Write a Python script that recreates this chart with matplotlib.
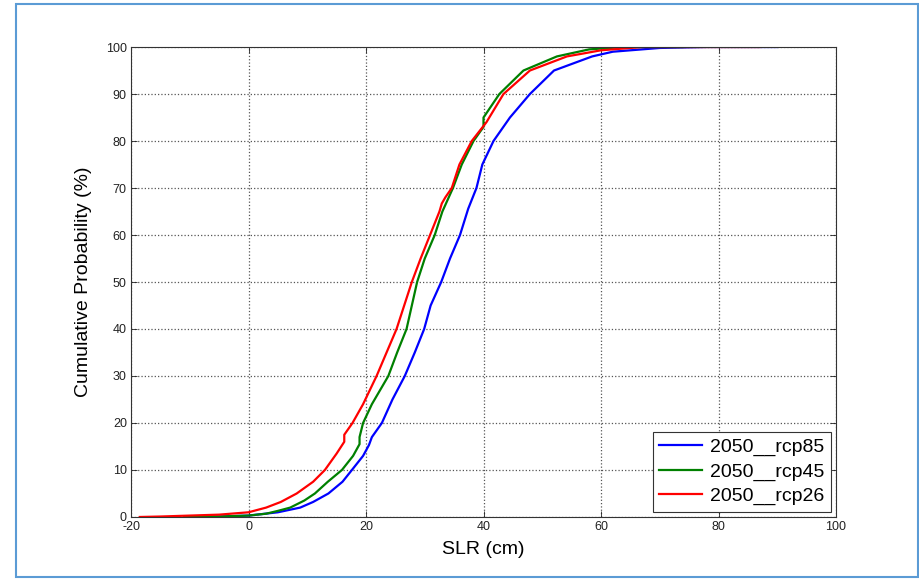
import matplotlib
matplotlib.use("Agg")
import matplotlib.pyplot as plt
from matplotlib.patches import Rectangle

plt.rcParams['font.family'] = ['Liberation Sans', 'DejaVu Sans']
plt.rcParams['axes.unicode_minus'] = False

# cumulative curves: (SLR cm, cumulative %)
rcp85_x = [-10.5, -5, 0, 5, 8.8, 11, 13.6, 16, 17.6, 19.5, 20.5, 21.0, 22.7, 24.5,
           26.6, 28.3, 29.9, 31.0, 32.8, 34.3, 36.0, 37.4, 38.8, 39.8, 41.7, 44.5,
           47.9, 52.0, 58.5, 62, 70, 78, 90]
rcp85_p = [0, 0.1, 0.3, 1.0, 2, 3.2, 5, 7.5, 10, 13, 15.3, 17, 20, 25,
           30, 35, 40, 45, 50, 55, 60, 65.6, 70, 75, 80, 85,
           90, 95, 98, 99, 99.8, 100, 100]

rcp45_x = [-11, -5, 0, 3, 5, 7.1, 9.5, 11.3, 13.5, 15.9, 17.8, 18.9, 18.9, 19.5, 21.0,
           23.8, 25.3, 26.9, 28.7, 30.0, 31.7, 33.0, 34.8, 36.3, 38.3, 40.0, 40.0,
           42.7, 46.8, 52.5, 58, 64, 74]
rcp45_p = [0, 0.1, 0.3, 0.7, 1.3, 2, 3.5, 5, 7.5, 10, 13, 15.5, 17, 20, 24,
           30, 35, 40, 50, 55, 60, 65, 70, 75, 80, 83, 85,
           90, 95, 98, 99.5, 100, 100]

rcp26_x = [-18.5, -15, -10, -5, 0, 3, 5.5, 8.2, 11, 13, 15, 16.3, 16.3, 17.7, 19.5,
           21.8, 23.5, 25.2, 26.5, 27.8, 29.3, 30.9, 32.5, 32.9, 33.5, 34.6, 35.9,
           38.0, 40.5, 43.4, 47.9, 54.2, 60, 67, 87]
rcp26_p = [0, 0.1, 0.3, 0.5, 1.0, 2.0, 3.2, 5, 7.5, 10, 13.5, 16, 17.5, 20, 24,
           30, 35, 40, 45, 50, 55, 60, 65, 66.7, 68, 70, 75,
           80, 84, 90, 95, 98, 99.3, 100, 100]

labels = ['2050__rcp85', '2050__rcp45', '2050__rcp26']
colors = ['#0000ff', '#008000', '#ff0000']

fig = plt.figure(figsize=(9.2, 5.79), dpi=100)
ax = fig.add_axes([0.1424, 0.1071, 0.7663, 0.8117])

for xs, ps, lab, c in zip([rcp85_x, rcp45_x, rcp26_x], [rcp85_p, rcp45_p, rcp26_p],
                          labels, colors):
    ax.plot(xs, ps, color=c, lw=1.6, label=lab)

ax.set_xlim(-20, 100)
ax.set_ylim(0, 100)
ax.set_xticks(range(-20, 101, 20))
ax.set_yticks(range(0, 101, 10))
ax.tick_params(direction='in', top=True, right=True, labelsize=9, length=4,
               width=0.6, pad=3, colors='#222222')
for s in ax.spines.values():
    s.set_linewidth(0.8)
    s.set_color('#333333')
ax.grid(True, linestyle=':', color='#555555', linewidth=0.9)

ax.set_xlabel('SLR (cm)', fontsize=14, labelpad=6)
ax.set_ylabel('Cumulative Probability (%)', fontsize=14, labelpad=10)

leg = ax.legend(loc='lower right', fontsize=14, fancybox=False, framealpha=1,
                edgecolor='#333333', handlelength=2.2, borderpad=0.35,
                labelspacing=0.35, handletextpad=0.4, borderaxespad=0.25)
leg.get_frame().set_linewidth(0.8)

# light blue frame around the image
fig.add_artist(Rectangle((16 / 920, 2 / 579), 902 / 920, 573 / 579,
                         transform=fig.transFigure, fill=False,
                         edgecolor='#5b9bd5', linewidth=1.5))

fig.savefig('out.png', dpi=100)
